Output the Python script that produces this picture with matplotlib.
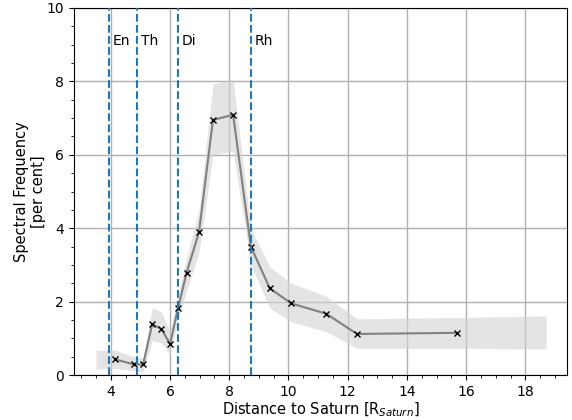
import numpy as np
import matplotlib
matplotlib.use('Agg')
import matplotlib.pyplot as plt
from matplotlib.ticker import MultipleLocator

# occurrence of spectral events vs radial distance
dist = [4.14, 4.78, 5.09, 5.40, 5.71, 6.00, 6.27, 6.56, 6.98, 7.45, 8.13, 8.73, 9.37, 10.10, 11.28, 12.31, 15.68]
freq = [0.43, 0.29, 0.29, 1.39, 1.25, 0.85, 1.82, 2.79, 3.90, 6.95, 7.09, 3.50, 2.36, 1.95, 1.67, 1.12, 1.15]

# uncertainty envelope
band_x = [3.50, 4.14, 4.78, 5.09, 5.40, 5.71, 6.00, 6.27, 6.56, 6.98, 7.45, 8.13, 8.73, 9.37, 10.10, 11.28, 12.31, 15.68, 18.70]
band_hi = [0.68, 0.68, 0.50, 0.46, 1.83, 1.72, 1.18, 2.15, 3.20, 4.50, 7.93, 8.06, 4.00, 2.95, 2.50, 2.15, 1.53, 1.57, 1.61]
band_lo = [0.16, 0.18, 0.13, 0.08, 0.95, 0.87, 0.54, 1.50, 2.30, 3.35, 6.00, 6.10, 3.00, 1.82, 1.45, 1.18, 0.73, 0.73, 0.71]

moons = ['En', 'Th', 'Di', 'Rh']
moon_r = [3.95, 4.89, 6.26, 8.74]

fig = plt.figure(figsize=(5.72, 4.2), dpi=100)
ax = fig.add_axes([0.129, 0.107, 0.862, 0.874])

ax.fill_between(band_x, band_lo, band_hi, color='lightgray', alpha=0.6, lw=0)
ax.plot(dist, freq, color='gray', lw=1.5, zorder=3)
ax.plot(dist, freq, 'x', color='k', ms=4, mew=1, zorder=4)

for name, r in zip(moons, moon_r):
    ax.axvline(r, color='tab:blue', ls='--', lw=1.5, zorder=5)
    ax.text(r + 0.12, 9.1, name, fontsize=10, va='center', ha='left')

ax.set_xlim(2.75, 19.4)
ax.set_ylim(0, 10)
ax.xaxis.set_major_locator(MultipleLocator(2))
ax.xaxis.set_minor_locator(MultipleLocator(0.5))
ax.yaxis.set_major_locator(MultipleLocator(2))
ax.yaxis.set_minor_locator(MultipleLocator(0.5))
ax.set_xticks(np.arange(4, 19, 2))
ax.grid(True, which='major', color='#b0b0b0', lw=1)
ax.set_axisbelow(True)

ax.set_xlabel('Distance to Saturn [R$_{Saturn}$]', fontsize=10.5, labelpad=1)
ax.set_ylabel('Spectral Frequency\n[per cent]', fontsize=10.5, labelpad=0)

plt.savefig('out.png', dpi=100)
